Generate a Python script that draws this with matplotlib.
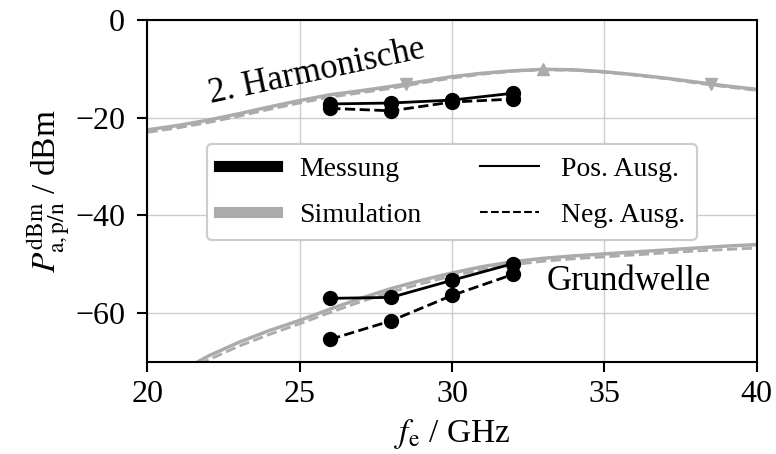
import numpy as np
import matplotlib.pyplot as plt
from matplotlib.lines import Line2D

plt.rcParams['font.family'] = 'Liberation Serif'
plt.rcParams['mathtext.fontset'] = 'stix'
plt.rcParams['font.size'] = 22

# measured output power (dBm) at 26..32 GHz
f_meas = [26, 28, 30, 32]
harm_pos = [-17.2, -17.0, -16.4, -15.0]
harm_neg = [-18.1, -18.6, -16.8, -16.2]
fund_pos = [-57.0, -56.8, -53.3, -49.9]
fund_neg = [-65.4, -61.6, -56.4, -52.1]

# simulated output power (dBm)
f_sim = [20, 21, 22, 23, 24, 25, 26, 27, 28, 29, 30,
         31, 32, 33, 34, 35, 36, 37, 38, 39, 40]
harm_sim_pos = [-22.5, -21.6, -20.5, -19.2, -17.8, -16.5, -15.3, -14.5, -13.6, -12.6, -11.6,
                -10.9, -10.4, -10.1, -10.2, -10.6, -11.2, -11.9, -12.7, -13.5, -14.2]
harm_sim_neg = [-23.0, -22.1, -21.0, -19.7, -18.3, -17.0, -15.8, -14.9, -14.0, -12.9, -11.9,
                -11.1, -10.5, -10.2, -10.3, -10.7, -11.3, -12.0, -12.9, -13.7, -14.4]
fund_sim_pos = [-75.5, -72.3, -68.8, -66.0, -63.6, -61.5, -59.2, -57.0, -55.0, -53.3, -51.8,
                -50.5, -49.5, -48.8, -48.3, -47.9, -47.5, -47.1, -46.7, -46.3, -46.0]
fund_sim_neg = [-76.2, -73.0, -69.6, -66.8, -64.4, -62.2, -59.9, -57.7, -55.7, -54.0, -52.4,
                -51.1, -50.1, -49.4, -48.9, -48.5, -48.1, -47.7, -47.3, -47.0, -46.7]

# peak and -3 dB points of the 2nd harmonic
f_peak = [33.0]
p_peak = [-10.1]
f_3db = [28.5, 38.5]
p_3db = [-13.1, -13.1]

gray = '#ababab'

fig = plt.figure(figsize=(7.76, 4.54), dpi=100)
ax = fig.add_axes([0.19, 0.203, 0.785, 0.753])

ax.plot(f_sim, harm_sim_pos, color=gray, lw=2.5)
ax.plot(f_sim, harm_sim_neg, color=gray, lw=2, ls='--')
ax.plot(f_sim, fund_sim_pos, color=gray, lw=2.5)
ax.plot(f_sim, fund_sim_neg, color=gray, lw=2, ls='--')
ax.plot(f_peak, p_peak, ls='none', marker='^', color=gray, ms=9)
ax.plot(f_3db, p_3db, ls='none', marker='v', color=gray, ms=9)

ax.plot(f_meas, harm_pos, color='black', lw=2, marker='o', ms=10)
ax.plot(f_meas, harm_neg, color='black', lw=2, ls='--', marker='o', ms=10)
ax.plot(f_meas, fund_pos, color='black', lw=2, marker='o', ms=10)
ax.plot(f_meas, fund_neg, color='black', lw=2, ls='--', marker='o', ms=10)

ax.text(25.55, -10.6, '2. Harmonische', rotation=12, ha='center', va='center', fontsize=25)
ax.text(35.8, -53.6, 'Grundwelle', ha='center', va='center', fontsize=25)

ax.set_xlim(20, 40)
ax.set_ylim(-70, 0)
ax.set_xticks([20, 25, 30, 35, 40])
ax.set_yticks([0, -20, -40, -60])
ax.set_yticklabels(['0', '\u221220', '\u221240', '\u221260'])
ax.grid(True, color='#cccccc', lw=1)
ax.set_axisbelow(True)
for s in ax.spines.values():
    s.set_linewidth(1.5)
ax.tick_params(width=1.5, length=7, labelsize=23)
ax.tick_params(axis='y', pad=9)
ax.tick_params(axis='x', pad=6)

ax.set_xlabel(r'$f_{\mathrm{e}}$ / GHz', fontsize=24, labelpad=6)
ax.set_ylabel(r'$P^{\mathrm{dBm}}_{\mathrm{a,p/n}}$ / dBm', fontsize=24, labelpad=2)

handles = [Line2D([], [], color='black', lw=8),
           Line2D([], [], color=gray, lw=8),
           Line2D([], [], color='black', lw=1.5),
           Line2D([], [], color='black', lw=1.5, ls='--')]
labels = ['Messung', 'Simulation', 'Pos. Ausg.', 'Neg. Ausg.']
leg = ax.legend(handles, labels, ncol=2, loc='center', bbox_to_anchor=(0.5, 0.497),
                fontsize=20, handlelength=2.1, columnspacing=2.1, labelspacing=0.75,
                borderpad=0.45, fancybox=True, edgecolor='#cccccc', framealpha=1)
leg.get_frame().set_linewidth(1.5)

fig.savefig('out.png', dpi=100)
